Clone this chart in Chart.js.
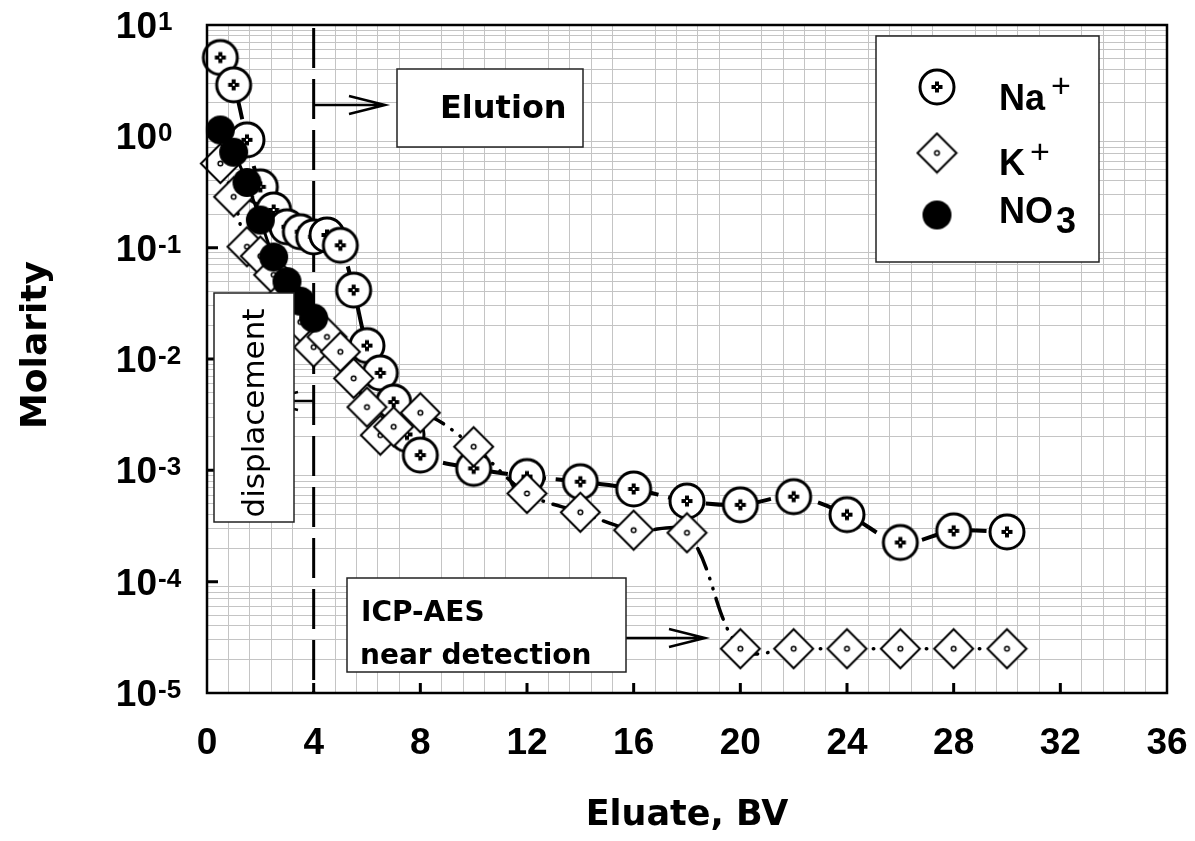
<!DOCTYPE html>
<html>
<head>
<meta charset="utf-8">
<script src="https://cdn.jsdelivr.net/npm/chart.js@4.4.0/dist/chart.umd.min.js"></script>
<style>
  body { margin: 0; background: #fff; }
  #wrap { position: relative; width: 1195px; height: 841px; }
</style>
</head>
<body>
<div id="wrap"><canvas id="myChart"></canvas></div>
<script>
// Na+ (circle with cross)
const naX = [0.5, 1, 1.5, 2, 2.5, 3, 3.5, 4, 4.5, 5, 5.5, 6, 6.5, 7, 7.5, 8, 10, 12, 14, 16, 18, 20, 22, 24, 26, 28, 30];
const naY = [5.1, 2.9, 0.93, 0.352, 0.218, 0.154, 0.139, 0.125, 0.13, 0.105, 0.0416, 0.0132, 0.0075, 0.0041, 0.0021, 0.00137, 0.00104, 0.00088, 0.00079, 0.00068, 0.00053, 0.00049, 0.00058, 0.0004, 0.000225, 0.000286, 0.00028];
// K+ (diamond)
const kX = [0.5, 1, 1.5, 2, 2.5, 3, 3.5, 4, 4.5, 5, 5.5, 6, 6.5, 7, 8, 10, 12, 14, 16, 18, 20, 22, 24, 26, 28, 30];
const kY = [0.57, 0.286, 0.102, 0.084, 0.057, 0.0375, 0.0215, 0.0128, 0.0158, 0.0116, 0.0067, 0.0037, 0.00207, 0.00246, 0.00329, 0.00163, 0.00062, 0.00042, 0.00029, 0.000275, 0.000025, 0.000025, 0.000025, 0.000025, 0.000025, 0.000025];
// NO3 (filled circle)
const no3X = [0.5, 1, 1.5, 2, 2.5, 3, 3.5, 4];
const no3Y = [1.14, 0.72, 0.385, 0.177, 0.0824, 0.0496, 0.0331, 0.0233];

const xTickLabels = [0, 4, 8, 12, 16, 20, 24, 28, 32, 36];
const yTickExps = [1, 0, -1, -2, -3, -4, -5];

const toPts = (xs, ys) => xs.map((x, i) => ({ x: x, y: ys[i] }));

// marker images
function makeNa(r) {
  const c = document.createElement('canvas');
  const s = Math.ceil(2 * r + 6);
  c.width = c.height = s;
  const g = c.getContext('2d');
  const m = s / 2;
  g.beginPath(); g.arc(m, m, r, 0, 2 * Math.PI);
  g.fillStyle = '#fff'; g.fill();
  g.lineWidth = 3; g.strokeStyle = '#000'; g.stroke();
  g.fillStyle = '#000';
  g.fillRect(m - 5.5, m - 2, 11, 4);
  g.fillRect(m - 2, m - 5.5, 4, 11);
  g.fillStyle = '#fff';
  g.fillRect(m - 1, m - 1, 2, 2);
  return c;
}
function makeK(h) {
  const c = document.createElement('canvas');
  const s = Math.ceil(2 * h + 4);
  c.width = c.height = s;
  const g = c.getContext('2d');
  const m = s / 2;
  g.beginPath();
  g.moveTo(m, m - h); g.lineTo(m + h, m); g.lineTo(m, m + h); g.lineTo(m - h, m); g.closePath();
  g.fillStyle = '#fff'; g.fill();
  g.lineWidth = 2; g.strokeStyle = '#000'; g.stroke();
  g.beginPath(); g.arc(m, m, 2.3, 0, 2 * Math.PI);
  g.lineWidth = 1.5; g.stroke();
  return c;
}
function makeNo3(r) {
  const c = document.createElement('canvas');
  const s = Math.ceil(2 * r + 4);
  c.width = c.height = s;
  const g = c.getContext('2d');
  g.beginPath(); g.arc(s / 2, s / 2, r, 0, 2 * Math.PI);
  g.fillStyle = '#000'; g.fill();
  return c;
}
const naImg = makeNa(17);
const kImg = makeK(19.5);
const no3Img = makeNo3(14.5);

const xGrid = [];
for (let i = 0; i <= 45; i++) xGrid.push(Math.round(i * 0.8 * 1000) / 1000);
const yGrid = [];
for (let e = -5; e <= 0; e++) for (let k = 1; k <= 9; k++) yGrid.push(k * Math.pow(10, e));
yGrid.push(10);

function arrow(ctx, x1, y1, x2, y2) {
  const dir = Math.sign(x2 - x1);
  ctx.beginPath();
  ctx.moveTo(x1, y1); ctx.lineTo(x2, y2);
  ctx.moveTo(x2 - dir * 36, y2 - 9); ctx.lineTo(x2, y2); ctx.lineTo(x2 - dir * 36, y2 + 9);
  ctx.stroke();
}
function box(ctx, x1, y1, x2, y2) {
  ctx.fillStyle = '#fff';
  ctx.fillRect(x1, y1, x2 - x1, y2 - y1);
  ctx.strokeStyle = '#222';
  ctx.lineWidth = 1.5;
  ctx.strokeRect(x1, y1, x2 - x1, y2 - y1);
}

const overlay = {
  id: 'overlay',
  beforeDatasetsDraw(chart) {
    const { ctx, chartArea: a, scales: { x } } = chart;
    const x4 = x.getPixelForValue(4);
    ctx.save();
    ctx.strokeStyle = '#000';
    ctx.lineWidth = 3;
    ctx.setLineDash([40, 11]);
    ctx.beginPath(); ctx.moveTo(x4, a.top + 3); ctx.lineTo(x4, a.bottom); ctx.stroke();
    ctx.setLineDash([]);
    ctx.lineWidth = 2.5;
    arrow(ctx, x4, 105, 385, 105);
    arrow(ctx, x4, 401, 262, 401);
    arrow(ctx, 626, 638, 705, 638);
    ctx.restore();
  },
  afterDatasetsDraw(chart) {
    const { ctx, chartArea: a, scales: { x, y } } = chart;
    ctx.save();
    // frame
    ctx.strokeStyle = '#000';
    ctx.lineWidth = 2.5;
    ctx.strokeRect(a.left, a.top, a.right - a.left, a.bottom - a.top);
    // inward ticks
    ctx.lineWidth = 3;
    ctx.beginPath();
    xTickLabels.forEach(v => {
      if (v === 0 || v === 36) return;
      const px = x.getPixelForValue(v);
      ctx.moveTo(px, a.bottom); ctx.lineTo(px, a.bottom - 10);
    });
    yTickExps.forEach(e => {
      if (e === 1 || e === -5) return;
      const py = y.getPixelForValue(Math.pow(10, e));
      ctx.moveTo(a.left, py); ctx.lineTo(a.left + 11, py);
    });
    ctx.stroke();

    // tick labels
    ctx.fillStyle = '#000';
    ctx.font = 'bold 37px "Liberation Sans", Arial, sans-serif';
    ctx.textAlign = 'center';
    ctx.textBaseline = 'alphabetic';
    xTickLabels.forEach(v => ctx.fillText(String(v), x.getPixelForValue(v), 754));
    yTickExps.forEach(e => {
      const py = y.getPixelForValue(Math.pow(10, e));
      ctx.font = 'bold 37px "Liberation Sans", Arial, sans-serif';
      ctx.textAlign = 'right';
      ctx.fillText('10', 157, py + 13);
      ctx.font = 'bold 26px "Liberation Sans", Arial, sans-serif';
      ctx.textAlign = 'left';
      ctx.fillText(String(e), 158, py + 5);
    });

    // axis titles
    ctx.font = 'bold 35px "DejaVu Sans", Verdana, sans-serif';
    ctx.textAlign = 'center';
    ctx.fillText('Eluate, BV', (a.left + a.right) / 2, 825);
    ctx.save();
    ctx.translate(46, 345);
    ctx.rotate(-Math.PI / 2);
    ctx.font = 'bold 36px "DejaVu Sans", Verdana, sans-serif';
    ctx.fillText('Molarity', 0, 0);
    ctx.restore();

    // Elution box
    box(ctx, 397, 69, 583, 147);
    ctx.fillStyle = '#000';
    ctx.font = 'bold 32px "DejaVu Sans", Verdana, sans-serif';
    ctx.textAlign = 'left';
    ctx.fillText('Elution', 440, 118);

    // displacement box
    box(ctx, 214, 293, 294, 522);
    ctx.fillStyle = '#000';
    ctx.save();
    ctx.translate(264, 413);
    ctx.rotate(-Math.PI / 2);
    ctx.font = '31px "DejaVu Sans", Verdana, sans-serif';
    ctx.textAlign = 'center';
    ctx.fillText('displacement', 0, 0);
    ctx.restore();

    // ICP-AES box
    box(ctx, 347, 578, 626, 672);
    ctx.fillStyle = '#000';
    ctx.font = 'bold 28px "DejaVu Sans", Verdana, sans-serif';
    ctx.textAlign = 'left';
    ctx.fillText('ICP-AES', 361, 621);
    ctx.fillText('near detection', 360, 664);

    // legend
    box(ctx, 876, 36, 1099, 262);
    ctx.drawImage(naImg, 937 - naImg.width / 2, 87 - naImg.height / 2);
    ctx.drawImage(kImg, 937 - kImg.width / 2, 153 - kImg.height / 2);
    ctx.drawImage(no3Img, 937 - no3Img.width / 2, 215 - no3Img.height / 2);
    ctx.fillStyle = '#000';
    ctx.textAlign = 'left';
    ctx.font = 'bold 36px "Liberation Sans", Arial, sans-serif';
    ctx.fillText('Na', 999, 110);
    ctx.fillText('K', 999, 175);
    ctx.fillText('NO', 999, 223);
    ctx.fillText('3', 1056, 233);
    ctx.font = '34px "Liberation Sans", Arial, sans-serif';
    ctx.fillText('+', 1051, 97);
    ctx.fillText('+', 1030, 163);
    ctx.restore();
  }
};

new Chart(document.getElementById('myChart'), {
  type: 'line',
  plugins: [overlay],
  data: {
    datasets: [
      {
        label: 'NO3',
        data: toPts(no3X, no3Y),
        order: 0,
        borderColor: '#000',
        borderWidth: 3,
        tension: 0.35,
        pointStyle: no3Img,
        pointRadius: 15,
        clip: false
      },
      {
        label: 'K+',
        data: toPts(kX, kY),
        order: 1,
        borderColor: '#000',
        borderWidth: 3.5,
        borderDash: [0.5, 10, 0.5, 10, 22, 10],
        borderCapStyle: 'round',
        tension: 0.35,
        pointStyle: kImg,
        pointRadius: 19,
        clip: false
      },
      {
        label: 'Na+',
        data: toPts(naX, naY),
        order: 2,
        borderColor: '#000',
        borderWidth: 4,
        borderDash: [28, 10],
        tension: 0.35,
        pointStyle: naImg,
        pointRadius: 17,
        clip: false
      }
    ]
  },
  options: {
    responsive: true,
    maintainAspectRatio: false,
    animation: false,
    events: [],
    layout: { padding: { left: 207, right: 28, top: 25, bottom: 148 } },
    plugins: { legend: { display: false }, tooltip: { enabled: false } },
    scales: {
      x: {
        type: 'linear',
        min: 0,
        max: 36,
        afterBuildTicks: s => { s.ticks = xGrid.map(v => ({ value: v })); },
        ticks: { display: false },
        grid: {
          drawTicks: false,
          lineWidth: 1,
          color: c => {
            const v = c.tick ? c.tick.value : 0;
            return Math.abs(v / 4 - Math.round(v / 4)) < 1e-6 ? 'rgba(0,0,0,0)' : '#c4c4c4';
          }
        },
        border: { display: false }
      },
      y: {
        type: 'logarithmic',
        min: 1e-5,
        max: 10,
        afterBuildTicks: s => { s.ticks = yGrid.map(v => ({ value: v })); },
        ticks: { display: false },
        grid: {
          drawTicks: false,
          lineWidth: 1,
          color: c => {
            const v = c.tick ? c.tick.value : 1;
            const k = v / Math.pow(10, Math.floor(Math.log10(v) + 1e-9));
            return Math.abs(k - 1) < 1e-6 ? 'rgba(0,0,0,0)' : '#c4c4c4';
          }
        },
        border: { display: false }
      }
    }
  }
});
</script>
</body>
</html>
